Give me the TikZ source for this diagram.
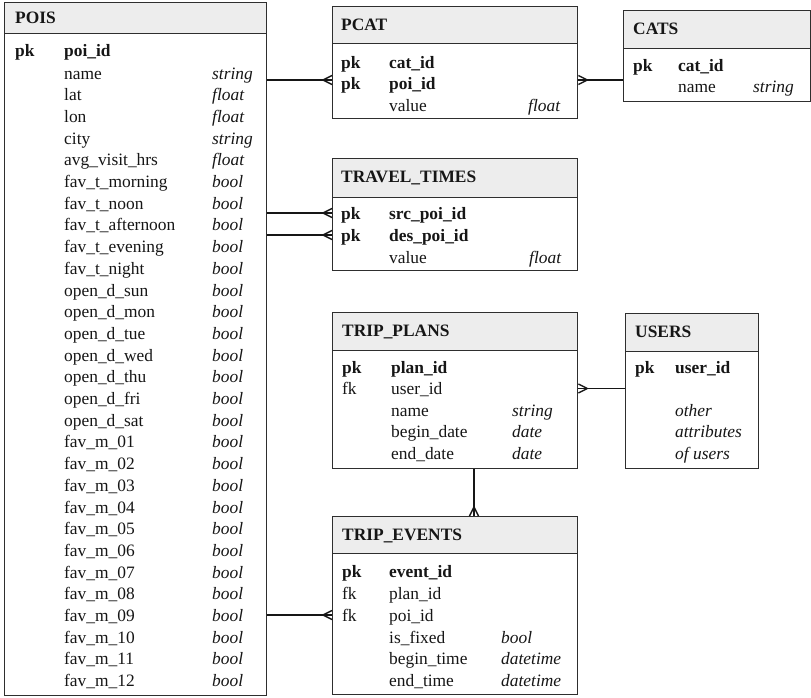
\documentclass[tikz,border=0pt]{standalone}
\usepackage{fontspec}
\setmainfont{Liberation Serif}
\definecolor{bordc}{HTML}{2E2E2E}
\definecolor{hdrc}{HTML}{EDEDED}
\definecolor{txtc}{HTML}{161616}
\newcommand\tsz{\fontsize{17.4}{20}\selectfont}
\tikzset{
  tbl/.style={draw=bordc, line width=1.4pt, anchor=north west, inner sep=0pt, rectangle},
  hdr/.style={tbl, fill=hdrc},
  txtbase/.style={anchor=west, inner sep=0pt, text height=12pt, text depth=0pt, text=txtc, font=\tsz},
  ttl/.style={txtbase, font=\tsz\bfseries},
  keyb/.style={txtbase, font=\tsz\bfseries},
  keyn/.style={txtbase},
  fld/.style={txtbase},
  fldb/.style={txtbase, font=\tsz\bfseries},
  typ/.style={txtbase, font=\tsz\itshape},
  conn/.style={draw=txtc, line width=1.8pt},
  crow/.pic={\draw[conn, line width=1.4pt] (-9,0) -- (0,4.5) (-9,0) -- (0,-4.5);}
}
\begin{document}
\begin{tikzpicture}[x=1pt,y=-1pt, font=\tsz]
\useasboundingbox (0,0) rectangle (811,697);
\fill[white] (0,0) rectangle (811,697);

% ---------- POIS ----------
\node[tbl, minimum width=262pt, minimum height=693pt] (pois) at (4,2) {};
\node[hdr, minimum width=262pt, minimum height=31pt] (poish) at (4,2) {};
\node[ttl] (poist) at (15,17.5) {POIS};
\node[keyb] (poispk) at (15,50) {pk};
\node[fldb] (poisid) at (64,50) {poi\_id};
\foreach \f/\t [count=\i from 0] in {name/string, lat/float, lon/float, city/string,
  avg\_visit\_hrs/float, fav\_t\_morning/bool, fav\_t\_noon/bool, fav\_t\_afternoon/bool,
  fav\_t\_evening/bool, fav\_t\_night/bool, open\_d\_sun/bool, open\_d\_mon/bool,
  open\_d\_tue/bool, open\_d\_wed/bool, open\_d\_thu/bool, open\_d\_fri/bool,
  open\_d\_sat/bool, fav\_m\_01/bool, fav\_m\_02/bool, fav\_m\_03/bool, fav\_m\_04/bool,
  fav\_m\_05/bool, fav\_m\_06/bool, fav\_m\_07/bool, fav\_m\_08/bool, fav\_m\_09/bool,
  fav\_m\_10/bool, fav\_m\_11/bool, fav\_m\_12/bool} {
  \node[fld] (pois-f\i) at (64, 73+\i*21.7) {\f};
  \node[typ] (pois-t\i) at (212, 73+\i*21.7) {\t};
}

% ---------- PCAT ----------
\node[tbl, minimum width=245pt, minimum height=112pt] (pcat) at (332,6) {};
\node[hdr, minimum width=245pt, minimum height=37pt] (pcath) at (332,6) {};
\node[ttl] (pcatt) at (341,24.5) {PCAT};
\node[keyb] (pcatk1) at (341,62) {pk};
\node[fldb] (pcatf1) at (389,62) {cat\_id};
\node[keyb] (pcatk2) at (341,83.5) {pk};
\node[fldb] (pcatf2) at (389,83.5) {poi\_id};
\node[fld] (pcatf3) at (389,105) {value};
\node[typ] (pcatt3) at (528,105) {float};

% ---------- CATS ----------
\node[tbl, minimum width=187pt, minimum height=91pt] (cats) at (623,10) {};
\node[hdr, minimum width=187pt, minimum height=38pt] (catsh) at (623,10) {};
\node[ttl] (catst) at (633,28.5) {CATS};
\node[keyb] (catsk1) at (633,65) {pk};
\node[fldb] (catsf1) at (678,65) {cat\_id};
\node[fld] (catsf2) at (678,86.5) {name};
\node[typ] (catst2) at (753,86.5) {string};

% ---------- TRAVEL_TIMES ----------
\node[tbl, minimum width=245pt, minimum height=112pt] (tt) at (332,158) {};
\node[hdr, minimum width=245pt, minimum height=39pt] (tth) at (332,158) {};
\node[ttl] (ttt) at (341,176.5) {TRAVEL\_TIMES};
\node[keyb] (ttk1) at (341,213) {pk};
\node[fldb] (ttf1) at (389,213) {src\_poi\_id};
\node[keyb] (ttk2) at (341,235) {pk};
\node[fldb] (ttf2) at (389,235) {des\_poi\_id};
\node[fld] (ttf3) at (389,257) {value};
\node[typ] (ttt3) at (529,257) {float};

% ---------- TRIP_PLANS ----------
\node[tbl, minimum width=245pt, minimum height=156pt] (tp) at (332,312) {};
\node[hdr, minimum width=245pt, minimum height=38pt] (tph) at (332,312) {};
\node[ttl] (tpt) at (342,330) {TRIP\_PLANS};
\node[keyb] (tpk1) at (342,367) {pk};
\node[fldb] (tpf1) at (391,367) {plan\_id};
\node[keyn] (tpk2) at (342,388.5) {fk};
\node[fld] (tpf2) at (391,388.5) {user\_id};
\node[fld] (tpf3) at (391,410) {name};
\node[typ] (tpt3) at (512,410) {string};
\node[fld] (tpf4) at (391,431.5) {begin\_date};
\node[typ] (tpt4) at (512,431.5) {date};
\node[fld] (tpf5) at (391,453) {end\_date};
\node[typ] (tpt5) at (512,453) {date};

% ---------- USERS ----------
\node[tbl, minimum width=133pt, minimum height=155pt] (us) at (625,313) {};
\node[hdr, minimum width=133pt, minimum height=38pt] (ush) at (625,313) {};
\node[ttl] (ust) at (635,331) {USERS};
\node[keyb] (usk1) at (635,367) {pk};
\node[fldb] (usf1) at (675,367) {user\_id};
\node[typ] (usf2) at (675,410) {other};
\node[typ] (usf3) at (675,431.5) {attributes};
\node[typ] (usf4) at (675,453) {of users};

% ---------- TRIP_EVENTS ----------
\node[tbl, minimum width=245pt, minimum height=178pt] (te) at (332,516) {};
\node[hdr, minimum width=245pt, minimum height=37pt] (teh) at (332,516) {};
\node[ttl] (tet) at (342,534) {TRIP\_EVENTS};
\node[keyb] (tek1) at (342,571) {pk};
\node[fldb] (tef1) at (389,571) {event\_id};
\node[keyn] (tek2) at (342,593) {fk};
\node[fld] (tef2) at (389,593) {plan\_id};
\node[keyn] (tek3) at (342,615) {fk};
\node[fld] (tef3) at (389,615) {poi\_id};
\node[fld] (tef4) at (389,637) {is\_fixed};
\node[typ] (tet4) at (501,637) {bool};
\node[fld] (tef5) at (389,658.5) {begin\_time};
\node[typ] (tet5) at (501,658.5) {datetime};
\node[fld] (tef6) at (389,680) {end\_time};
\node[typ] (tet6) at (501,680) {datetime};

% ---------- connectors ----------
\coordinate (j1) at (300,80);
\coordinate (j2) at (474,490);
\draw[conn] (j1 -| pois.east) -- (j1 -| pcat.west);
\pic at (j1 -| pcat.west) {crow};
\draw[conn] (j1 -| pcat.east) -- (j1 -| cats.west);
\pic[rotate=180] at (j1 -| pcat.east) {crow};
\draw[conn] (ttk1 -| pois.east) -- (ttk1 -| tt.west);
\pic at (ttk1 -| tt.west) {crow};
\draw[conn] (ttk2 -| pois.east) -- (ttk2 -| tt.west);
\pic at (ttk2 -| tt.west) {crow};
\draw[conn] (tpk2 -| tp.east) -- (tpk2 -| us.west);
\pic[rotate=180] at (tpk2 -| tp.east) {crow};
\draw[conn] (j2 |- tp.south) -- (j2 |- te.north);
\pic[rotate=-90] at (j2 |- te.north) {crow};
\draw[conn] (tek3 -| pois.east) -- (tek3 -| te.west);
\pic at (tek3 -| te.west) {crow};
\end{tikzpicture}
\end{document}
